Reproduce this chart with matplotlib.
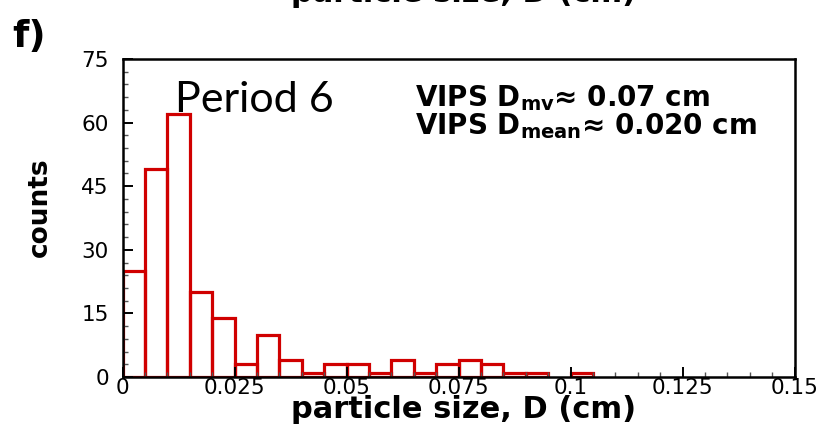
import numpy as np
import matplotlib
matplotlib.use('Agg')
import matplotlib.pyplot as plt
from matplotlib.ticker import MultipleLocator

# histogram data (bin width 0.005 cm)
bin_width = 0.005
bin_left = np.arange(21) * bin_width
counts = [25, 49, 62, 20, 14, 3, 10, 4, 1, 3, 3, 1, 4, 1, 3, 4, 3, 1, 1, 0, 1]

x_ticks = [0, 0.025, 0.05, 0.075, 0.1, 0.125, 0.15]
x_ticklabels = ['0', '0.025', '0.05', '0.075', '0.1', '0.125', '0.15']
y_ticks = [0, 15, 30, 45, 60, 75]

plt.rcParams['mathtext.fontset'] = 'dejavusans'

fig = plt.figure(figsize=(8.4, 4.26), dpi=100)
ax = fig.add_axes([0.146, 0.115, 0.800, 0.7465])

# draw only non-empty bins as open red bars
keep = [i for i, c in enumerate(counts) if c > 0]
ax.bar(bin_left[keep], [counts[i] for i in keep], width=bin_width, align='edge',
       fill=False, edgecolor='#d00000', linewidth=2.3)

ax.set_xlim(0, 0.15)
ax.set_ylim(0, 75)
ax.set_xticks(x_ticks)
ax.set_xticklabels(x_ticklabels)
ax.set_yticks(y_ticks)
ax.xaxis.set_minor_locator(MultipleLocator(0.005))
ax.yaxis.set_minor_locator(MultipleLocator(3))
ax.tick_params(which='both', direction='in', top=False, right=False,
               labelsize=15.5, width=1.4, color='black')
ax.tick_params(which='major', length=7)
ax.tick_params(which='minor', length=3.5, width=1.0, color='#555555')
ax.tick_params(axis='x', pad=1)
ax.tick_params(axis='y', pad=10)
for s in ax.spines.values():
    s.set_linewidth(1.8)

ax.text(0.0116, 62.5, 'Period 6', family='Lato', fontsize=31, va='baseline')
ax.text(0.0652, 63.9, r'VIPS D$_{\mathbf{mv}}$≈ 0.07 cm', fontsize=20,
        fontweight='bold', va='baseline')
ax.text(0.0652, 57.3, r'VIPS D$_{\mathbf{mean}}$≈ 0.020 cm', fontsize=20,
        fontweight='bold', va='baseline')

fig.text(0.552, 0.038, 'particle size, D (cm)', fontsize=22, fontweight='bold',
         ha='center', va='center')
fig.text(0.048, 0.514, 'counts', fontsize=19, fontweight='bold', rotation=90,
         ha='center', va='center')
# title of the panel above, cut off at the top edge
fig.text(0.552, 0.995, 'particle size, D (cm)', fontsize=22, fontweight='bold',
         ha='center', va='baseline')
fig.text(0.014, 0.89, 'f)', fontsize=27, fontweight='bold', va='baseline')

fig.savefig('out.png', dpi=100)
